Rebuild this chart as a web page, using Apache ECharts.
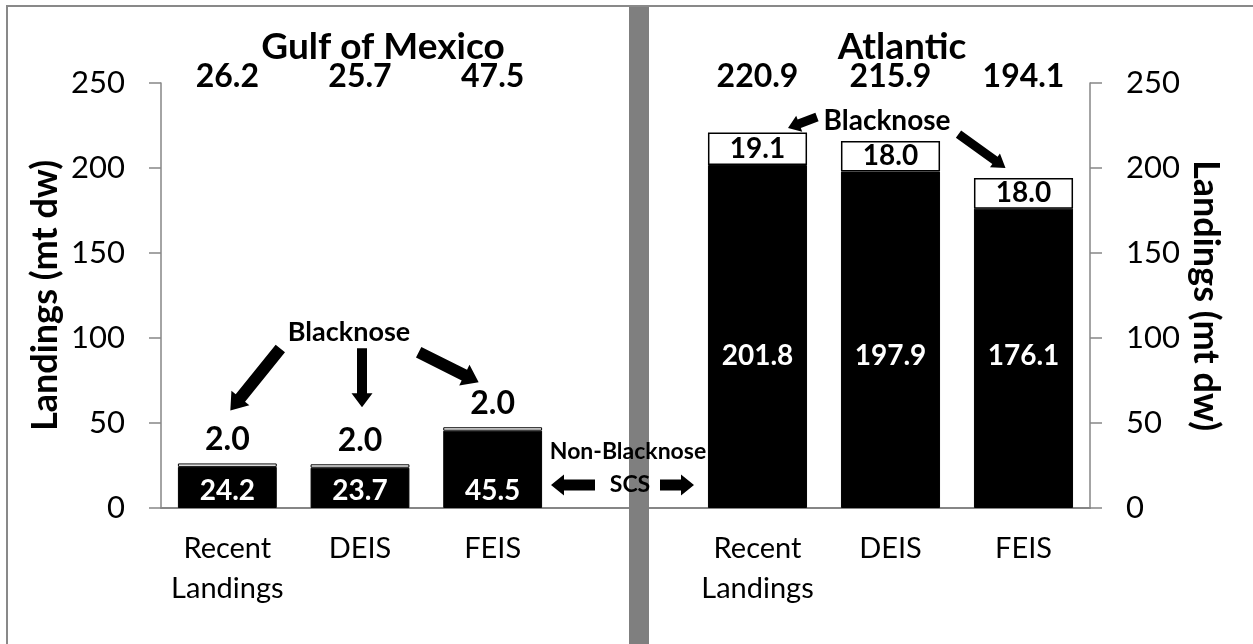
<!DOCTYPE html>
<html>
<head>
<meta charset="utf-8">
<script src="https://cdn.jsdelivr.net/npm/echarts@6/dist/echarts.min.js"></script>
<style>
  html, body { margin: 0; padding: 0; background: #fff; }
  #chart { width: 1253px; height: 644px; }
</style>
</head>
<body>
<div id="chart"></div>
<script>
// ---- data ----
const categories = ['Recent\nLandings', 'DEIS', 'FEIS'];
const gulfNonBlacknose = [24.2, 23.7, 45.5];
const gulfBlacknose = [2.0, 2.0, 2.0];
const gulfTotals = [26.2, 25.7, 47.5];
const atlanticNonBlacknose = [201.8, 197.9, 176.1];
const atlanticBlacknose = [19.1, 18.0, 18.0];
const atlanticTotals = [220.9, 215.9, 194.1];
const yMin = 0, yMax = 250, yStep = 50;
const panelTitles = ['Gulf of Mexico', 'Atlantic'];
const axisTitle = 'Landings (mt dw)';

// ---- style ----
const FONT = 'Lato, "Open Sans", "Noto Sans", sans-serif';
const AXIS_GRAY = '#868686';
const fmt = v => Number(v).toFixed(1);

const chart = echarts.init(document.getElementById('chart'));

function catAxis(gridIndex) {
  return {
    type: 'category', gridIndex, data: categories,
    axisLine: { show: false },
    axisTick: { show: false },
    axisLabel: { interval: 0, margin: 21, color: '#000', fontFamily: FONT, fontSize: 29, lineHeight: 40 }
  };
}
function valAxis(gridIndex, position) {
  return {
    type: 'value', gridIndex, position, min: yMin, max: yMax, interval: yStep,
    name: axisTitle, nameLocation: 'middle', nameGap: 98,
    nameRotate: position === 'left' ? 90 : -90,
    nameTextStyle: { color: '#000', fontFamily: FONT, fontWeight: 'bold', fontSize: 36, lineHeight: 36 },
    axisLine: { show: true, lineStyle: { color: AXIS_GRAY, width: 1.5 } },
    axisTick: { show: true, length: 12, lineStyle: { color: AXIS_GRAY, width: 1.5 } },
    axisLabel: { margin: 36, color: '#000', fontFamily: FONT, fontSize: 31 },
    splitLine: { show: false }
  };
}
function baseAxis(gridIndex) {
  return {
    type: 'category', gridIndex, data: [],
    axisLine: { show: true, lineStyle: { color: AXIS_GRAY, width: 2 } },
    axisTick: { show: false }, axisLabel: { show: false }
  };
}
function totalsSeries(axisIndex, totals) {
  return {
    type: 'custom', xAxisIndex: axisIndex, yAxisIndex: axisIndex,
    data: totals.map((t, i) => [i, t]),
    z: 10,
    renderItem: function (params, api) {
      const x = api.coord([api.value(0), 0])[0];
      const top = params.coordSys.y;
      return {
        type: 'text',
        style: {
          text: fmt(api.value(1)), x: x, y: top - 6,
          align: 'center', verticalAlign: 'middle',
          textAlign: 'center', textVerticalAlign: 'middle',
          font: 'bold 32px ' + FONT, fill: '#000'
        }
      };
    }
  };
}

const barW = '74.5%';
const option = {
  backgroundColor: '#fff',
  animation: false,
  title: [
    { text: panelTitles[0], left: 378, top: 24, textAlign: 'center',
      textStyle: { fontFamily: FONT, fontWeight: 'bold', fontSize: 37, lineHeight: 37, color: '#000' } },
    { text: panelTitles[1], left: 897, top: 24, textAlign: 'center',
      textStyle: { fontFamily: FONT, fontWeight: 'bold', fontSize: 37, lineHeight: 37, color: '#000' } }
  ],
  grid: [
    { left: 161, top: 83, width: 398, height: 425 },
    { left: 691, top: 83, width: 399, height: 425 },
    { left: 161, top: 83, width: 468, height: 425 },
    { left: 649, top: 83, width: 441, height: 425 }
  ],
  xAxis: [catAxis(0), catAxis(1), baseAxis(2), baseAxis(3)],
  yAxis: [valAxis(0, 'left'), valAxis(1, 'right'),
          { type: 'value', gridIndex: 2, show: false }, { type: 'value', gridIndex: 3, show: false }],
  series: [
    { name: 'Non-Blacknose SCS', type: 'bar', xAxisIndex: 0, yAxisIndex: 0, stack: 'gulf',
      barWidth: barW, data: gulfNonBlacknose,
      itemStyle: { color: '#000', borderColor: '#000', borderWidth: 1 },
      label: { show: true, position: 'insideBottom', distance: 3, formatter: p => fmt(p.value),
        color: '#fff', fontFamily: FONT, fontWeight: 'bold', fontSize: 28, lineHeight: 28 } },
    { name: 'Blacknose', type: 'bar', xAxisIndex: 0, yAxisIndex: 0, stack: 'gulf',
      barWidth: barW, data: gulfBlacknose,
      itemStyle: { color: '#fff', borderColor: '#000', borderWidth: 1 },
      label: { show: true, position: 'top', distance: 8, formatter: p => fmt(p.value),
        color: '#000', fontFamily: FONT, fontWeight: 'bold', fontSize: 32, lineHeight: 32 } },
    { name: 'Non-Blacknose SCS', type: 'bar', xAxisIndex: 1, yAxisIndex: 1, stack: 'atl',
      barWidth: barW, data: atlanticNonBlacknose,
      itemStyle: { color: '#000', borderColor: '#000', borderWidth: 1 },
      label: { show: true, position: 'insideBottom', distance: 138, formatter: p => fmt(p.value),
        color: '#fff', fontFamily: FONT, fontWeight: 'bold', fontSize: 28, lineHeight: 28 } },
    { name: 'Blacknose', type: 'bar', xAxisIndex: 1, yAxisIndex: 1, stack: 'atl',
      barWidth: barW, data: atlanticBlacknose,
      itemStyle: { color: '#fff', borderColor: '#000', borderWidth: 1.5 },
      label: { show: true, position: 'inside', formatter: p => fmt(p.value),
        color: '#000', fontFamily: FONT, fontWeight: 'bold', fontSize: 28, lineHeight: 28 } },
    totalsSeries(0, gulfTotals),
    totalsSeries(1, atlanticTotals)
  ]
};
chart.setOption(option);

// ---- annotations (arrows, notes, divider, frame) ----
function arrow(tx, ty, px, py, w, hw, hl) {
  const dx = px - tx, dy = py - ty, L = Math.hypot(dx, dy);
  const ux = dx / L, uy = dy / L, nx = -uy, ny = ux;
  const bx = px - ux * hl, by = py - uy * hl;
  return {
    type: 'polygon', z: 100,
    shape: { points: [
      [tx + nx * w / 2, ty + ny * w / 2], [bx + nx * w / 2, by + ny * w / 2],
      [bx + nx * hw / 2, by + ny * hw / 2], [px, py],
      [bx - nx * hw / 2, by - ny * hw / 2], [bx - nx * w / 2, by - ny * w / 2],
      [tx - nx * w / 2, ty - ny * w / 2]
    ] },
    style: { fill: '#000' }
  };
}
function note(text, x, y, size) {
  return { type: 'text', z: 100, x: x, y: y,
    style: { text: text, font: 'bold ' + size + 'px ' + FONT, fill: '#000',
      align: 'center', verticalAlign: 'middle', textAlign: 'center', textVerticalAlign: 'middle' } };
}
const g = (i, v) => chart.convertToPixel({ gridIndex: 0 }, [i, v]);
const a = (i, v) => chart.convertToPixel({ gridIndex: 1 }, [i, v]);
const g0 = g(0, gulfTotals[0]), g1 = g(1, gulfTotals[1]), g2 = g(2, gulfTotals[2]);
const a0 = a(0, atlanticTotals[0]), a2 = a(2, atlanticTotals[2]);
const base = g(2, 0);

chart.setOption({
  graphic: [
    { type: 'rect', z: 50, shape: { x: 629, y: 6, width: 20, height: 650 }, style: { fill: '#7f7f7f' } },
    { type: 'line', z: 50, shape: { x1: 6, y1: 6, x2: 1253, y2: 6 }, style: { stroke: '#898989', lineWidth: 2 } },
    { type: 'line', z: 50, shape: { x1: 7, y1: 5, x2: 7, y2: 644 }, style: { stroke: '#898989', lineWidth: 2 } },
    note('Blacknose', 349, 332, 27),
    note('Blacknose', 887, 121, 28),
    note('Non-Blacknose', 628, 452, 23),
    note('SCS', 630, 485, 23),
    arrow(g0[0] + 53, g0[1] - 115, g0[0] + 3, g0[1] - 53, 12, 23, 16),
    arrow(g1[0] + 2, g1[1] - 116, g1[0] + 2, g1[1] - 57, 10, 21, 14),
    arrow(g2[0] - 74, g2[1] - 75, g2[0] - 14, g2[1] - 45, 12, 23, 16),
    arrow(a0[0] + 59.5, a0[1] - 15.5, a0[0] + 30.5, a0[1] - 4.5, 9, 17, 12),
    arrow(a2[0] - 65, a2[1] - 44, a2[0] - 18, a2[1] - 10, 9, 17, 13),
    arrow(595, base[1] - 23, 551, base[1] - 23, 11, 21, 13),
    arrow(660, base[1] - 23, 694, base[1] - 23, 11, 21, 13)
  ]
});
</script>
</body>
</html>
